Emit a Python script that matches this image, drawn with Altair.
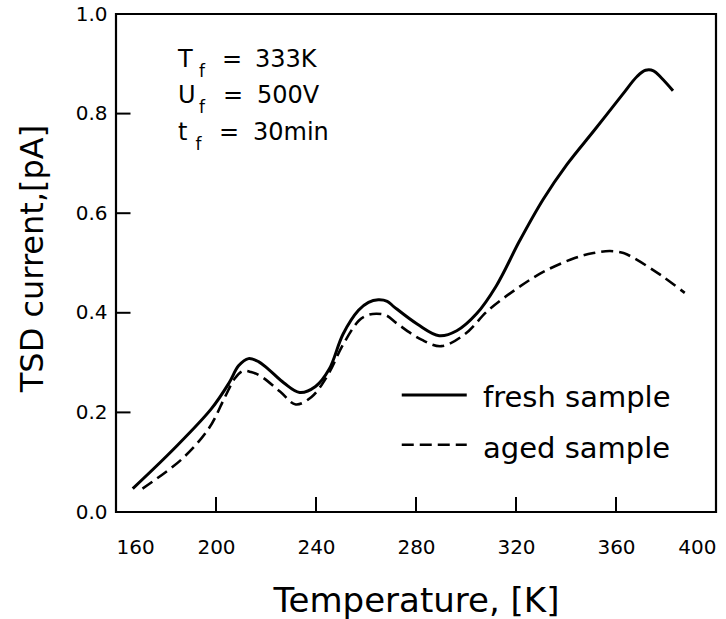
import altair as alt
import pandas as pd

# ---- data ----
fresh_T = [166.7, 183.2, 198.1, 205.2, 209.1, 213.0, 217.0, 220.9, 227.2, 233.5, 239.8, 245.3,
           250.8, 257.0, 261.0, 264.9, 268.5, 271.2, 280.6, 289.3, 296.3, 304.2, 312.1, 321.5,
           330.9, 340.4, 351.4, 362.4, 368.5, 371.8, 375.0, 378.1, 382.8]
fresh_I = [0.047, 0.127, 0.207, 0.259, 0.294, 0.308, 0.302, 0.287, 0.259, 0.240, 0.252, 0.287,
           0.357, 0.405, 0.421, 0.426, 0.423, 0.412, 0.377, 0.354, 0.364, 0.398, 0.454, 0.545,
           0.628, 0.698, 0.767, 0.837, 0.875, 0.887, 0.886, 0.872, 0.846]

aged_T = [170.6, 186.3, 197.3, 203.6, 207.5, 210.7, 214.0, 217.8, 225.6, 231.9, 238.2, 244.5,
          250.8, 257.1, 260.5, 264.1, 268.0, 272.8, 282.2, 290.1, 299.5, 308.9, 319.9, 330.9,
          343.5, 351.0, 357.6, 363.0, 367.1, 378.1, 387.5]
aged_I = [0.047, 0.106, 0.169, 0.231, 0.268, 0.283, 0.281, 0.273, 0.242, 0.216, 0.231, 0.273,
          0.336, 0.384, 0.395, 0.398, 0.395, 0.377, 0.346, 0.333, 0.357, 0.405, 0.447, 0.482,
          0.510, 0.520, 0.524, 0.520, 0.510, 0.475, 0.440]

x_ticks = [200, 240, 280, 320, 360]
y_ticks = [0.2, 0.4, 0.6, 0.8]
x_labels = [160, 200, 240, 280, 320, 360, 400]
y_labels = [0.0, 0.2, 0.4, 0.6, 0.8, 1.0]

series_names = ["fresh sample", "aged sample"]

ann_main = ["T", "U", "t"]
ann_eq = ["=", "=", "="]
ann_val = ["333K", "500V", "30min"]
ann_sub = ["f", "f", "f"]
ann_y = [0.894, 0.821, 0.747]
ann_sub_y = [0.873, 0.801, 0.727]
ann_sub_x = [193.2, 193.2, 191.8]
ann_eq_x = [202.4, 202.8, 201.2]
ann_val_x = [215.6, 216.4, 214.8]

FONT = "DejaVu Sans"

xs = alt.Scale(domain=[160, 400], nice=False, zero=False)
ys = alt.Scale(domain=[0, 1.0], nice=False, zero=False)

x_axis = alt.Axis(values=x_labels, format="d", title="Temperature, [K]", grid=False, domain=False,
                  ticks=False, labelPadding=25, labelFontSize=20, labelFont=FONT,
                  labelColor="black", titleFont=FONT, titleFontSize=34, titleFontWeight="normal",
                  titleColor="black", titleY=99, titleBaseline="alphabetic")
y_axis = alt.Axis(values=y_labels, format=".1f", title="TSD current,[pA]", grid=False, domain=False,
                  ticks=False, labelPadding=9, labelFontSize=20, labelFont=FONT,
                  labelColor="black", titleFont=FONT, titleFontSize=32, titleFontWeight="normal",
                  titleColor="black", titleAngle=270, titleX=-84, titleY=244,
                  titleAlign="center", titleBaseline="middle")


def X(field):
    return alt.X(field, scale=xs, axis=x_axis)


def Y(field):
    return alt.Y(field, scale=ys, axis=y_axis)


fresh_df = pd.DataFrame({"T": fresh_T, "I": fresh_I})
aged_df = pd.DataFrame({"T": aged_T, "I": aged_I})

fresh = alt.Chart(fresh_df).mark_line(color="black", strokeWidth=3,
                                      interpolate="catmull-rom").encode(x=X("T:Q"), y=Y("I:Q"))
aged = alt.Chart(aged_df).mark_line(color="black", strokeWidth=2.6, strokeDash=[12, 6],
                                    interpolate="catmull-rom").encode(x=X("T:Q"), y=Y("I:Q"))

# inward ticks
xt_df = pd.DataFrame({"T": x_ticks, "y0": [0.0] * len(x_ticks), "y1": [0.03] * len(x_ticks)})
xt = alt.Chart(xt_df).mark_rule(color="black", strokeWidth=2).encode(
    x=X("T:Q"), y=Y("y0:Q"), y2="y1:Q")
yt_df = pd.DataFrame({"I": y_ticks, "x0": [160.0] * len(y_ticks), "x1": [165.8] * len(y_ticks)})
yt = alt.Chart(yt_df).mark_rule(color="black", strokeWidth=2).encode(
    y=Y("I:Q"), x=X("x0:Q"), x2="x1:Q")

# legend (manual, inside plot)
leg_df = pd.DataFrame({
    "name": series_names,
    "x0": [274.3, 274.3], "x1": [300.3, 300.3],
    "ly": [0.235, 0.135],
    "tx": [306.8, 306.8],
    "ty": [0.211, 0.108],
})
leg_solid = alt.Chart(leg_df.iloc[[0]]).mark_rule(color="black", strokeWidth=3).encode(
    x=X("x0:Q"), x2="x1:Q", y=Y("ly:Q"))
leg_dash = alt.Chart(leg_df.iloc[[1]]).mark_rule(color="black", strokeWidth=2.6,
                                                 strokeDash=[12, 6]).encode(
    x=X("x0:Q"), x2="x1:Q", y=Y("ly:Q"))
leg_text = alt.Chart(leg_df).mark_text(align="left", baseline="alphabetic", font=FONT,
                                       fontSize=29, color="black").encode(
    x=X("tx:Q"), y=Y("ty:Q"), text="name:N")

# annotation T_f, U_f, t_f
ann_df = pd.DataFrame({
    "m": ann_main, "e": ann_eq, "v": ann_val, "s": ann_sub,
    "y": ann_y, "sy": ann_sub_y, "sx": ann_sub_x,
    "mx": [184.8] * 3, "ex": ann_eq_x, "vx": ann_val_x,
})
txt = dict(align="left", baseline="alphabetic", font=FONT, color="black")
ann_m = alt.Chart(ann_df).mark_text(fontSize=24, **txt).encode(x=X("mx:Q"), y=Y("y:Q"), text="m:N")
ann_e = alt.Chart(ann_df).mark_text(fontSize=24, **txt).encode(x=X("ex:Q"), y=Y("y:Q"), text="e:N")
ann_v = alt.Chart(ann_df).mark_text(fontSize=24, **txt).encode(x=X("vx:Q"), y=Y("y:Q"), text="v:N")
ann_s = alt.Chart(ann_df).mark_text(fontSize=17, **txt).encode(x=X("sx:Q"), y=Y("sy:Q"), text="s:N")

chart = alt.layer(fresh, aged, xt, yt, leg_solid, leg_dash, leg_text,
                  ann_m, ann_e, ann_v, ann_s).properties(
    width=600, height=498,
    padding={"left": 116, "top": 14, "right": 10, "bottom": 107},
    autosize=alt.AutoSizeParams(type="none"),
    background="white",
).configure_view(stroke="black", strokeWidth=2.2).configure_axis(
    labelFontSize=20, labelFont=FONT, labelColor="black"
)

chart.save("out.html", embed_options={"renderer": "svg", "actions": False})
